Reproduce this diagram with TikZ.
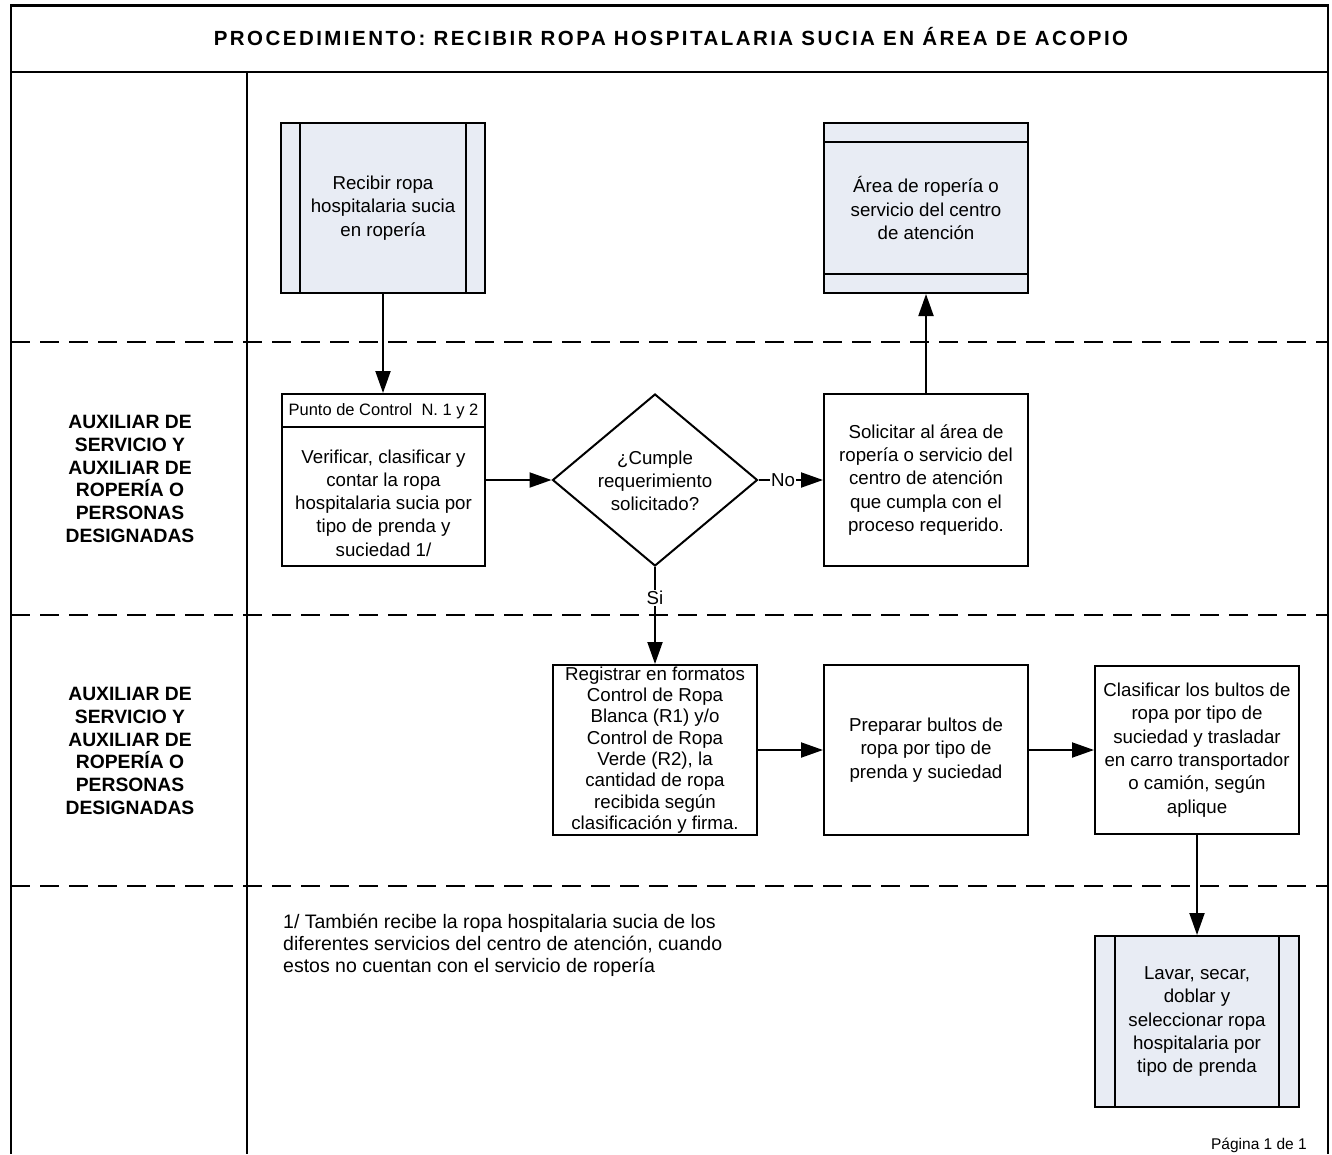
\documentclass[tikz,border=0pt]{standalone}
\usepackage{fontspec}
\setmainfont{Liberation Sans}
\usetikzlibrary{arrows.meta,shapes.geometric}
\definecolor{procfill}{RGB}{232,236,244}
\begin{document}
\begin{tikzpicture}[x=1pt,y=-1pt,
  every node/.style={font=\fontsize{18.7}{23.3}\selectfont, align=center, inner sep=0pt},
  box/.style={draw, line width=2pt, minimum width=204pt, minimum height=170pt},
  subproc/.style={box, fill=procfill},
  flow/.style={line width=2pt, -{Triangle[length=22pt,width=15pt]}},
  lane/.style={line width=2pt, dash pattern=on 19pt off 10pt},
  lanelabel/.style={font=\bfseries\fontsize{19.3}{22.8}\selectfont},
  framel/.style={line width=2pt},
  tag/.style={fill=white, inner sep=1pt}
]
\useasboundingbox (0,0) rectangle (1332,1154);

% outer frame and header band
\draw[line width=3pt] (10,5) -- (1329,5);
\draw[framel] (11,4) -- (11,1154);
\draw[framel] (1328,4) -- (1328,1154);
\draw[line width=2.5pt] (11,72) -- (1328,72);
\draw[framel] (247,72) -- (247,1154);

% swimlane separators
\draw[lane] (11,342) -- (1328,342);
\draw[lane] (11,615) -- (1328,615);
\draw[lane] (11,886) -- (1328,886);

\node (title) at (671,37) {\bfseries\fontsize{20.5}{24}\selectfont\addfontfeature{LetterSpace=12}PROCEDIMIENTO: RECIBIR ROPA HOSPITALARIA SUCIA EN ÁREA DE ACOPIO};

% lane labels
\node[lanelabel] (lane2) at (130,479) {AUXILIAR DE\\SERVICIO Y\\AUXILIAR DE\\ROPERÍA O\\PERSONAS\\DESIGNADAS};
\node[lanelabel] (lane3) at (130,751) {AUXILIAR DE\\SERVICIO Y\\AUXILIAR DE\\ROPERÍA O\\PERSONAS\\DESIGNADAS};

% predefined process: start
\node[subproc] (recibir) at (383,208) {Recibir ropa\\hospitalaria sucia\\en ropería};
\draw[line width=2pt] ([xshift=20pt]recibir.north west) -- ([xshift=20pt]recibir.south west);
\draw[line width=2pt] ([xshift=-20pt]recibir.north east) -- ([xshift=-20pt]recibir.south east);

% external area
\node[subproc] (area) at (926,208) {Área de ropería o\\servicio del centro\\de atención};
\draw[line width=2pt] ([yshift=-20pt]area.north west) -- ([yshift=-20pt]area.north east);
\draw[line width=2pt] ([yshift=20pt]area.south west) -- ([yshift=20pt]area.south east);

% control point activity
\node[box, minimum width=203pt, minimum height=172pt] (verif) at (383.5,480) {};
\draw[line width=2pt] ([yshift=-34pt]verif.north west) -- ([yshift=-34pt]verif.north east);
\node[font=\fontsize{16.5}{20}\selectfont] (punto) at (383.5,411) {Punto de Control\ \ N. 1 y 2};
\node (veriftext) at (383.5,503) {Verificar, clasificar y\\contar la ropa\\hospitalaria sucia por\\tipo de prenda y\\suciedad 1/};

% decision
\node[draw, line width=2pt, diamond, minimum width=205pt, minimum height=172pt] (dec) at (655,480) {};
\node (dectext) at (655,481) {¿Cumple\\requerimiento\\solicitado?};

\node[box, minimum height=172pt] (solic) at (926,480) {Solicitar al área de\\ropería o servicio del\\centro de atención\\que cumpla con el\\proceso requerido.};

% third lane
\node[box, font=\fontsize{18.7}{21.3}\selectfont] (regis) at (655,750) {Registrar en formatos\\Control de Ropa\\Blanca (R1) y/o\\Control de Ropa\\Verde (R2), la\\cantidad de ropa\\recibida según\\clasificación y firma.};
\node[box] (prep) at (926,750) {Preparar bultos de\\ropa por tipo de\\prenda y suciedad};
\node[box, minimum height=168pt] (clas) at (1197,750) {Clasificar los bultos de\\ropa por tipo de\\suciedad y trasladar\\en carro transportador\\o camión, según\\aplique};

% predefined process: end
\node[subproc, minimum height=171pt] (lavar) at (1197,1021.5) {Lavar, secar,\\doblar y\\seleccionar ropa\\hospitalaria por\\tipo de prenda};
\draw[line width=2pt] ([xshift=21pt]lavar.north west) -- ([xshift=21pt]lavar.south west);
\draw[line width=2pt] ([xshift=-21pt]lavar.north east) -- ([xshift=-21pt]lavar.south east);

% connectors
\draw[flow] (recibir.south) -- (recibir.south |- verif.north);
\draw[flow] (verif.east) -- (dec.west);
\draw[flow] (dec.east) -- node[tag, pos=0.38] (no) {No} (solic.west);
\draw[flow] (solic.north) -- (area.south);
\draw[flow] (dec.south) -- node[tag, pos=0.32] (si) {Si} (regis.north);
\draw[flow] (regis.east) -- (prep.west);
\draw[flow] (prep.east) -- (clas.west);
\draw[flow] (clas.south) -- (lavar.north);

% footnote and page number
\node[anchor=west, align=left, font=\fontsize{19.5}{22}\selectfont] (nota) at (283,945) {1/ También recibe la ropa hospitalaria sucia de los\\diferentes servicios del centro de atención, cuando\\estos no cuentan con el servicio de ropería};
\node[anchor=base east, font=\fontsize{15.5}{18}\selectfont] (pagina) at (1307,1149) {Página 1 de 1};
\end{tikzpicture}
\end{document}
